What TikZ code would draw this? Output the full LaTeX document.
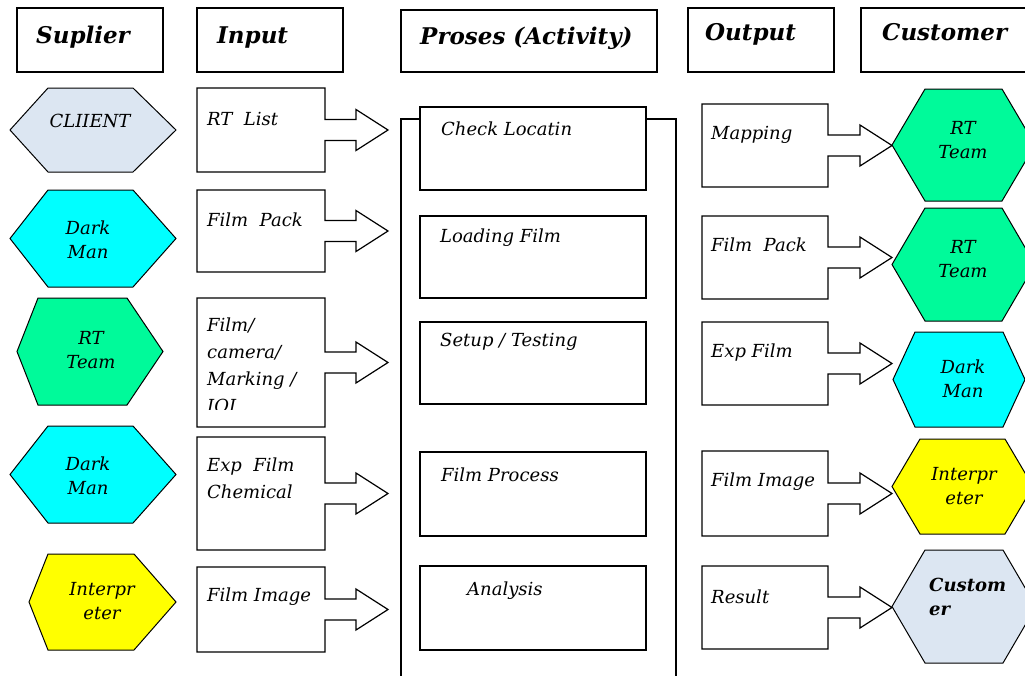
\documentclass[tikz,border=0pt]{standalone}
\usepackage{fontspec}
\setmainfont{DejaVu Serif}
\definecolor{cl}{HTML}{DCE6F2}
\definecolor{cy}{HTML}{00FFFF}
\definecolor{gr}{HTML}{00FA9A}
\definecolor{ye}{HTML}{FFFF00}
\tikzset{
  hdr/.style={font=\fontsize{23}{26}\selectfont\bfseries\itshape, anchor=base west, inner sep=0pt},
  txt/.style={font=\fontsize{18}{27}\selectfont\itshape, anchor=base west, inner sep=0pt},
  mtxt/.style={font=\fontsize{18}{27}\selectfont\itshape, anchor=north west, inner sep=0pt, align=left},
  hxt/.style={font=\fontsize{18}{24}\selectfont\itshape, align=center, inner sep=0pt},
  boxline/.style={draw=black, line width=1.2pt},
  hexline/.style={draw=black, line width=1pt},
}
% hexagon: name, xl, xa, xb, xr, ytop, ybot, colour
\newcommand\hexa[8]{%
  \path[hexline, fill=#8] (#2,{(#6+#7)/2}) -- (#3,#6) -- (#4,#6) -- (#5,{(#6+#7)/2}) -- (#4,#7) -- (#3,#7) -- cycle;
  \coordinate (#1) at ({(#2+#5)/2},{(#6+#7)/2});
}
% block arrow box: x1,x2,y1,y2,xh,xt
\newcommand\barrow[6]{%
  \draw[boxline] (#1,#3) -- (#2,#3) -- (#2,{(#3+#4)/2-10.5}) -- (#5,{(#3+#4)/2-10.5}) -- (#5,{(#3+#4)/2-20.5}) -- (#6,{(#3+#4)/2}) -- (#5,{(#3+#4)/2+20.5}) -- (#5,{(#3+#4)/2+10.5}) -- (#2,{(#3+#4)/2+10.5}) -- (#2,#4) -- (#1,#4) -- cycle;
}
\begin{document}
\begin{tikzpicture}[x=1pt,y=-1pt]
\clip (0,0) rectangle (1025,675);
\fill[white] (0,0) rectangle (1025,675);

% headers
\draw[boxline] (17,8) rectangle (163,72);
\draw[boxline] (197,8) rectangle (343,72);
\draw[boxline] (401,10) rectangle (657,72);
\draw[boxline] (688,8) rectangle (834,72);
\draw[boxline] (861,8) rectangle (1040,72);
\node[hdr] (hS) at (36,43) {Suplier};
\node[hdr] (hI) at (217,43) {Input};
\node[hdr] (hP) at (420,44) {Proses (Activity)};
\node[hdr] (hO) at (705,40) {Output};
\node[hdr] (hC) at (882,40) {Customer};

% supplier hexagons
\hexa{s1}{10}{48}{133}{176}{88}{172}{cl}
\hexa{s2}{10}{48}{133}{176}{190}{287}{cy}
\hexa{s3}{17}{38}{127}{163}{298}{405}{gr}
\hexa{s4}{10}{48}{133}{176}{426}{523}{cy}
\hexa{s5}{29}{48}{134}{176}{554}{650}{ye}
\node[hxt] (t1) at (90,121) {CLIIENT};
\node[hxt] (t2) at (88,240) {Dark\\Man};
\node[hxt] (t3) at (91,350) {RT\\Team};
\node[hxt] (t4) at (88,476) {Dark\\Man};
\node[hxt] (t5) at (102,601) {Interpr\\eter};

% input boxes
\barrow{197}{325}{88}{172}{356}{388}
\barrow{197}{325}{190}{272}{356}{388}
\barrow{197}{325}{298}{427}{356}{388}
\barrow{197}{325}{437}{550}{356}{388}
\barrow{197}{325}{567}{652}{356}{388}
\node[txt] (i1) at (207,125) {RT\ \ List};
\node[txt] (i2) at (207,226) {Film\ \ Pack};
\begin{scope}
\clip (197,298) rectangle (325,409);
\node[mtxt] (i3) at (207,318) {Film/\\camera/\\Marking /\\IOI};
\end{scope}
\node[mtxt] (i4) at (207,458) {Exp\ \ Film\\Chemical};
\node[txt] (i5) at (207,601) {Film Image};

% process
\draw[boxline] (420,119) -- (401,119) -- (401,680);
\draw[boxline] (646,119) -- (676,119) -- (676,680);
\draw[boxline,fill=white] (420,107) rectangle (646,190);
\draw[boxline] (420,216) rectangle (646,298);
\draw[boxline] (420,322) rectangle (646,404);
\draw[boxline] (420,452) rectangle (646,536);
\draw[boxline] (420,566) rectangle (646,650);
\node[txt] (p1) at (441,135) {Check Locatin};
\node[txt] (p2) at (440,242) {Loading Film};
\node[txt] (p3) at (440,346) {Setup / Testing};
\node[txt] (p4) at (441,481) {Film Process};
\node[txt] (p5) at (467,595) {Analysis};

% output boxes
\barrow{702}{828}{104}{187}{860}{892}
\barrow{702}{828}{216}{299}{860}{892}
\barrow{702}{828}{322}{405}{860}{892}
\barrow{702}{828}{451}{536}{860}{892}
\barrow{702}{828}{566}{649}{860}{892}
\node[txt] (o1) at (711,139) {Mapping};
\node[txt] (o2) at (711,251) {Film\ \ Pack};
\node[txt] (o3) at (711,357) {Exp Film};
\node[txt] (o4) at (711,486) {Film Image};
\node[txt] (o5) at (711,603) {Result};

% customer hexagons
\hexa{c1}{892}{925}{1002}{1035}{89}{201}{gr}
\hexa{c2}{892}{925}{1002}{1035}{208}{321}{gr}
\hexa{c3}{893}{915}{1003}{1025}{332}{427}{cy}
\hexa{c4}{892}{920}{1005}{1033}{439}{534}{ye}
\hexa{c5}{892}{925}{1003}{1036}{550}{663}{cl}
\node[hxt] (u1) at (963,140) {RT\\Team};
\node[hxt] (u2) at (963,259) {RT\\Team};
\node[hxt] (u3) at (963,379) {Dark\\Man};
\node[hxt] (u4) at (964,486) {Interpr\\eter};
\node[hxt, font=\fontsize{18}{24}\selectfont\bfseries\itshape, align=left, anchor=north west] (u5) at (929,578) {Custom\\er};
\end{tikzpicture}
\end{document}
